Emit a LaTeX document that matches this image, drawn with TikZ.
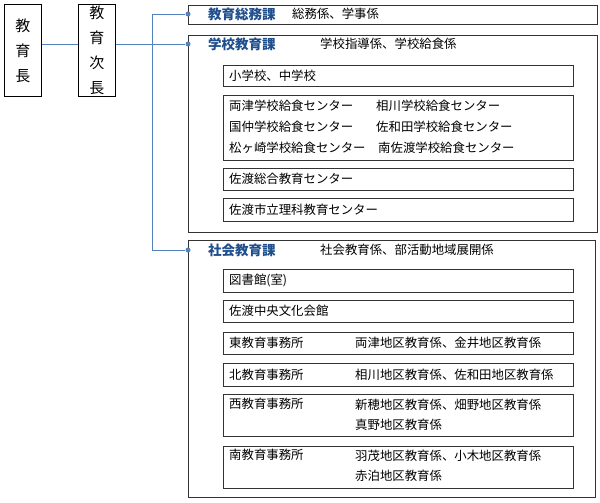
\documentclass[tikz,border=0pt]{standalone}
\usepackage{fontspec}
\setmainfont{Noto Sans CJK JP}
\usepackage{tikz}
\definecolor{titleblue}{RGB}{31,78,140}
\definecolor{linkblue}{RGB}{84,130,190}

\begin{document}
\begin{tikzpicture}[x=1pt, y=-1pt, font=\fontsize{12.4}{14}\selectfont,
		box_style/.style={draw=black!80, line width=0.9pt, anchor=north west, inner sep=0pt},
		head_style/.style={draw=black, line width=0.9pt, anchor=north west, inner sep=0pt, align=center, font=\fontsize{15}{25}\selectfont},
		text_style/.style={anchor=west, inner sep=0pt},
		title_style/.style={anchor=west, inner sep=0pt, text=titleblue, font=\fontsize{13.5}{14}\selectfont\bfseries},
		link_style/.style={draw=linkblue, line width=0.9pt},
		dot_style/.style={circle, fill=linkblue, inner sep=0pt, minimum size=5pt}]
		\useasboundingbox (0,0) rectangle (600,503);

		% heads
		\node[head_style, minimum width=37pt, minimum height=92pt] (h0) at (4,4) {教\\育\\長};
		\node[head_style, minimum width=37pt, minimum height=92pt] (h1) at (78,4) {教\\育\\次\\長};

		% sections
		\node[box_style, minimum width=409pt, minimum height=19pt] (s1) at (188,5) {};
		\node[box_style, minimum width=409pt, minimum height=197pt] (s2) at (188,35) {};
		\node[box_style, minimum width=407pt, minimum height=257pt] (s3) at (188,240) {};

		\node[dot_style] (d1) at (188,14) {};
		\node[dot_style] (d2) at (188,44) {};
		\node[dot_style] (d3) at (188,250) {};
		\coordinate (c1) at (152,14);
		\coordinate (c2) at (152,44);
		\coordinate (c3) at (152,250);

		\node[title_style] (t1) at (208,14) {教育総務課};
		\node[text_style] (u1) at (292,14) {総務係、学事係};
		\node[title_style] (t2) at (208,44) {学校教育課};
		\node[text_style] (u2) at (320,44) {学校指導係、学校給食係};
		\node[title_style] (t3) at (208,250) {社会教育課};
		\node[text_style] (u3) at (320,250) {社会教育係、部活動地域展開係};

		% units of 学校教育課
		\node[box_style, minimum width=350pt, minimum height=21pt] (b1) at (223,65) {};
		\node[text_style] at (229,75.5) {小学校、中学校};
		\node[box_style, minimum width=350pt, minimum height=65pt] (b2) at (223,95) {};
		\node[text_style] at (229,106) {両津学校給食センター};
		\node[text_style] at (376,106) {相川学校給食センター};
		\node[text_style] at (229,127) {国仲学校給食センター};
		\node[text_style] at (376,127) {佐和田学校給食センター};
		\node[text_style] at (229,148) {松ヶ崎学校給食センター};
		\node[text_style] at (378,148) {南佐渡学校給食センター};
		\node[box_style, minimum width=350pt, minimum height=22pt] (b3) at (223,168) {};
		\node[text_style] at (229,179) {佐渡総合教育センター};
		\node[box_style, minimum width=350pt, minimum height=23pt] (b4) at (223,198) {};
		\node[text_style] at (229,209.5) {佐渡市立理科教育センター};

		% units of 社会教育課
		\node[box_style, minimum width=350pt, minimum height=23pt] (b5) at (223,269) {};
		\node[text_style] at (229,280.5) {図書館(室)};
		\node[box_style, minimum width=350pt, minimum height=22pt] (b6) at (223,300) {};
		\node[text_style] at (229,311) {佐渡中央文化会館};
		\node[box_style, minimum width=350pt, minimum height=22pt] (b7) at (223,332) {};
		\node[text_style] at (229,343) {東教育事務所};
		\node[text_style] at (355,343) {両津地区教育係、金井地区教育係};
		\node[box_style, minimum width=350pt, minimum height=23pt] (b8) at (223,363) {};
		\node[text_style] at (229,374.5) {北教育事務所};
		\node[text_style] at (355,374.5) {相川地区教育係、佐和田地区教育係};
		\node[box_style, minimum width=350pt, minimum height=42pt] (b9) at (223,394) {};
		\node[text_style] at (229,404) {西教育事務所};
		\node[text_style] at (355,405) {新穂地区教育係、畑野地区教育係};
		\node[text_style] at (355,425) {真野地区教育係};
		\node[box_style, minimum width=350pt, minimum height=42pt] (b10) at (223,446) {};
		\node[text_style] at (229,455) {南教育事務所};
		\node[text_style] at (355,456) {羽茂地区教育係、小木地区教育係};
		\node[text_style] at (355,476) {赤泊地区教育係};

		\draw[link_style] (h0.east |- c2) -- (h1.west |- c2);
		\draw[link_style] (h1.east |- c2) -- (c2);
		\draw[link_style] (c1) -- (c3);
		\draw[link_style] (c1) -- (d1);
		\draw[link_style] (c2) -- (d2);
		\draw[link_style] (c3) -- (d3);
\end{tikzpicture}
\end{document}
